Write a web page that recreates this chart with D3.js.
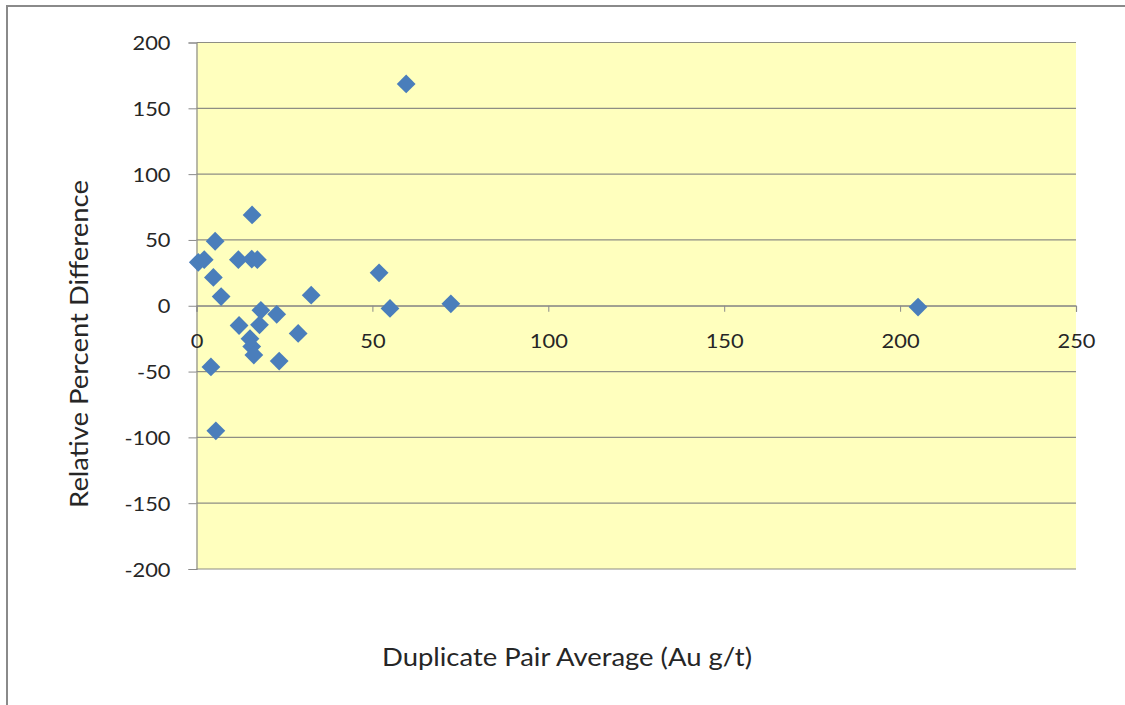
<!DOCTYPE html>
<html>
<head>
<meta charset="utf-8">
<script src="https://cdn.jsdelivr.net/npm/d3@7"></script>
<style>
  html, body { margin: 0; padding: 0; background: #fff; }
  svg text { font-family: Lato, "Open Sans", sans-serif; fill: #262626; }
</style>
</head>
<body>
<svg id="chart" width="1125" height="705"></svg>
<script>
// Duplicate pair average (Au g/t) and relative percent difference
const pairAverage = [0.5, 2.2, 5.3, 4.8, 7.0, 4.1, 5.5, 11.9, 15.7, 17.3, 15.8, 18.3, 22.8,
  12.1, 17.9, 15.2, 15.7, 16.3, 23.5, 28.9, 32.6, 51.9, 55.0, 59.6, 72.3, 205.1];
const relDiff = [33, 35, 49, 21.5, 7, -46.5, -95, 35, 35.5, 35, 69, -3.5, -6.5,
  -15, -14.5, -25, -31, -37.5, -42, -21, 8, 25, -2, 168.5, 1.5, -1];

const xTicks = [0, 50, 100, 150, 200, 250];
const yTicks = [-200, -150, -100, -50, 0, 50, 100, 150, 200];

const svg = d3.select("#chart");
const plotLeft = 196.5, plotRight = 1076, plotTop = 42.5, plotBottom = 569;
const stretch = 1.12;   // wide-set lettering
const fmt = d => String(d);  // plain hyphen for negatives

const x = d3.scaleLinear().domain([0, 250]).range([plotLeft, plotRight]);
const y = d3.scaleLinear().domain([-200, 200]).range([plotBottom, plotTop]);

// outer chart frame
svg.append("rect").attr("x", 7).attr("y", 6).attr("width", 1200).attr("height", 800)
  .attr("fill", "none").attr("stroke", "#8a8a8a").attr("stroke-width", 2);

// plot background
svg.append("rect").attr("x", plotLeft).attr("y", plotTop)
  .attr("width", plotRight - plotLeft).attr("height", plotBottom - plotTop)
  .attr("fill", "#ffffbe");

// horizontal gridlines
svg.append("g").selectAll("line").data(yTicks).join("line")
  .attr("x1", plotLeft).attr("x2", plotRight)
  .attr("y1", d => y(d)).attr("y2", d => y(d))
  .attr("stroke", "#8e8e84").attr("stroke-width", 1.2);

// y axis
const yAxis = d3.axisLeft(y).tickValues(yTicks).tickFormat(fmt).tickSize(8);
const gy = svg.append("g").attr("transform", `translate(${plotLeft},0)`).call(yAxis);
gy.select(".domain").attr("stroke", "#8a8a8a").attr("stroke-width", 1.2);
gy.selectAll(".tick line").attr("stroke", "#8a8a8a");
gy.selectAll(".tick text")
  .attr("x", -26 / stretch).attr("dy", "0.36em")
  .attr("transform", `scale(${stretch},1)`)
  .attr("font-size", 19.5).style("font-family", "Lato, sans-serif").attr("fill", "#262626");

// x axis crossing at zero
const xAxis = d3.axisBottom(x).tickValues(xTicks).tickFormat(fmt).tickSize(6);
const gx = svg.append("g").attr("transform", `translate(0,${y(0)})`).call(xAxis);
gx.select(".domain").attr("stroke", "#8a8a8a").attr("stroke-width", 1.2);
gx.selectAll(".tick line").attr("stroke", "#8a8a8a");
gx.selectAll(".tick text")
  .attr("y", 42).attr("dy", null)
  .attr("transform", `scale(${stretch},1)`)
  .attr("font-size", 19.5).style("font-family", "Lato, sans-serif").attr("fill", "#262626");

// diamond markers
const diamond = d3.symbol().type(d3.symbolDiamond2).size(225);
svg.append("g").selectAll("path").data(pairAverage.map((v, i) => [v, relDiff[i]])).join("path")
  .attr("d", diamond)
  .attr("transform", d => `translate(${x(d[0])},${y(d[1])})`)
  .attr("fill", "#4a7ebb");

// axis titles
svg.append("text").attr("transform", `translate(567,666) scale(${stretch},1)`)
  .attr("text-anchor", "middle")
  .attr("font-size", 24.5).text("Duplicate Pair Average (Au g/t)");
svg.append("text").attr("transform", `translate(88,344) rotate(-90) scale(${stretch},1)`)
  .attr("text-anchor", "middle")
  .attr("font-size", 24.5).text("Relative Percent Difference");
</script>
</body>
</html>
